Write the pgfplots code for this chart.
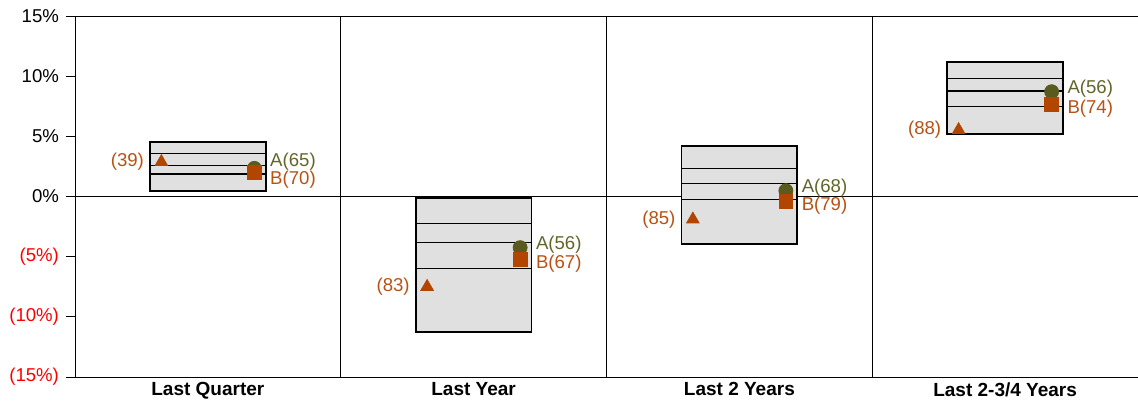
\documentclass[border=0pt]{standalone}
\usepackage{fontspec}
\setmainfont{Liberation Sans}
\usepackage{pgfplots}
\pgfplotsset{compat=1.18}
\definecolor{olv}{RGB}{88,90,30}
\definecolor{olvt}{RGB}{98,102,42}
\definecolor{brn}{RGB}{178,70,0}
\definecolor{brnt}{RGB}{184,82,20}
\definecolor{boxfill}{RGB}{224,224,224}
\pgfplotsset{
  Astyle/.style={only marks, mark=*, mark size=3.5pt, color=olv,
    nodes near coords, point meta=explicit symbolic,
    nodes near coords style={anchor=west, xshift=4.4pt, yshift=#1, text=olvt, font=\fontsize{9.3}{11}\selectfont}},
  Bstyle/.style={only marks, mark=square*, mark size=3.4pt, color=brn,
    nodes near coords, point meta=explicit symbolic,
    nodes near coords style={anchor=west, xshift=4.4pt, yshift=#1, text=brnt, font=\fontsize{9.3}{11}\selectfont}},
}
\begin{document}
\begin{tikzpicture}
\useasboundingbox (-37.5pt,-12pt) rectangle (531.5pt,188.5pt);
\begin{axis}[
  scale only axis, width=531.5pt, height=180.5pt,
  xmin=-0.5, xmax=3.5, ymin=-15, ymax=15,
  axis x line=box, axis y line=left,
  axis line style={-, black, line width=0.5pt},
  every outer y axis line/.append style={-},
  every inner y axis line/.append style={-},
  y axis line style={-},
  ytick={-15,-10,-5,0,5,10,15},
  yticklabels={\textcolor{red}{(15\%)},\textcolor{red}{(10\%)},\textcolor{red}{(5\%)},0\%,5\%,10\%,15\%},
  tick align=outside, major tick length=4.5pt,
  y tick style={black, line width=0.5pt},
  xtick={0,1,2,3},
  xticklabels={\textbf{Last Quarter},\textbf{Last Year},\textbf{Last 2 Years},\textbf{Last 2-3/4 Years}},
  x tick style={draw=none},
  extra x ticks={0.5,1.5,2.5}, extra x tick labels={},
  extra x tick style={grid=major, major grid style={black, line width=0.5pt}, major tick length=0pt},
  yticklabel style={font=\fontsize{9.3}{11}\selectfont},
  xticklabel style={font=\fontsize{9.5}{11}\selectfont, yshift=5.2pt},
  unbounded coords=jump,
]
% zero line
\addplot[black, line width=0.5pt, forget plot] coordinates {(-0.5,0) (3.5,0)};
% boxes (5th to 95th percentile)
\addplot[draw=black, line width=0.9pt, fill=boxfill] coordinates {(-0.218,0.48) (0.218,0.48) (0.218,4.53) (-0.218,4.53)} -- cycle;
\addplot[draw=black, line width=0.9pt, fill=boxfill] coordinates {(0.782,-11.24) (1.218,-11.24) (1.218,-0.15) (0.782,-0.15)} -- cycle;
\addplot[draw=black, line width=0.9pt, fill=boxfill] coordinates {(1.782,-3.97) (2.218,-3.97) (2.218,4.22) (1.782,4.22)} -- cycle;
\addplot[draw=black, line width=0.9pt, fill=boxfill] coordinates {(2.782,5.2) (3.218,5.2) (3.218,11.2) (2.782,11.2)} -- cycle;
% interior quartile lines
\addplot[black, line width=0.65pt] coordinates {(-0.218,1.87) (0.218,1.87) (0.218,nan) (-0.218,2.56) (0.218,2.56) (0.218,nan) (-0.218,3.59) (0.218,3.59)};
\addplot[black, line width=0.65pt] coordinates {(0.782,-5.97) (1.218,-5.97) (1.218,nan) (0.782,-3.81) (1.218,-3.81) (1.218,nan) (0.782,-2.23) (1.218,-2.23)};
\addplot[black, line width=0.65pt] coordinates {(1.782,-0.23) (2.218,-0.23) (2.218,nan) (1.782,1.10) (2.218,1.10) (2.218,nan) (1.782,2.34) (2.218,2.34)};
\addplot[black, line width=0.65pt] coordinates {(2.782,7.47) (3.218,7.47) (3.218,nan) (2.782,8.77) (3.218,8.77) (3.218,nan) (2.782,9.82) (3.218,9.82)};
% triangles
\addplot[only marks, mark=triangle*, mark size=3.6pt, color=brn,
  nodes near coords, point meta=explicit symbolic,
  nodes near coords style={anchor=east, xshift=-5.2pt, text=brnt, font=\fontsize{9.3}{11}\selectfont}]
  coordinates {(-0.175,2.87) [(39)] (0.825,-7.5) [(83)] (1.825,-1.9) [(85)] (2.825,5.53) [(88)]};
% A circles
\addplot[Astyle=3.2pt] coordinates {(0.175,2.34) [A(65)]};
\addplot[Astyle=1.6pt] coordinates {(1.175,-4.25) [A(56)] (2.175,0.48) [A(68)] (3.175,8.71) [A(56)]};
% B squares
\addplot[Bstyle=-3.6pt] coordinates {(0.175,2.0) [B(70)]};
\addplot[Bstyle=-2.2pt] coordinates {(1.175,-5.22) [B(67)] (2.175,-0.43) [B(79)] (3.175,7.66) [B(74)]};
\end{axis}
\end{tikzpicture}
\end{document}
